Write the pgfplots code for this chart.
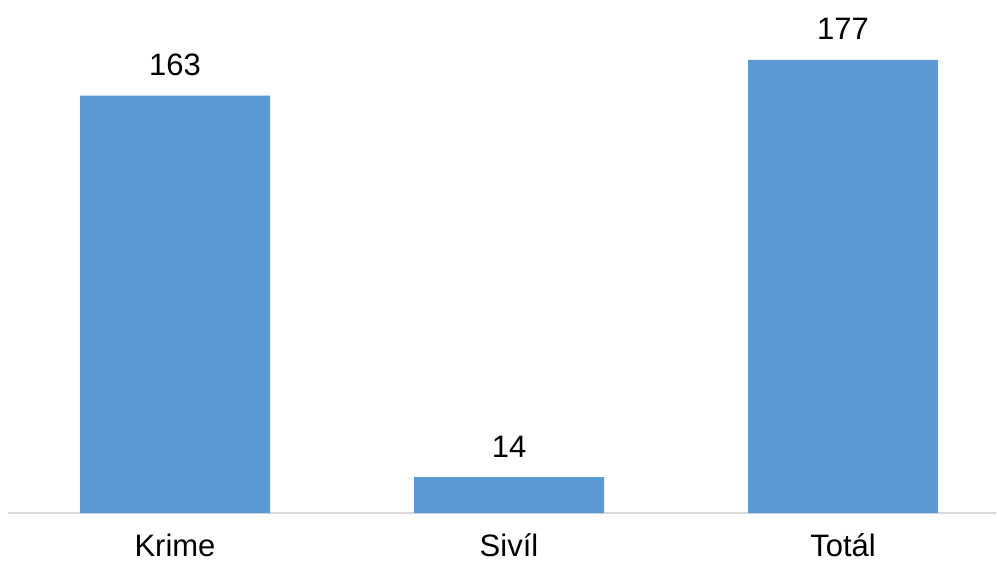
\documentclass[border=0pt]{standalone}
\usepackage{pgfplots}
\pgfplotsset{compat=1.18}
\usepackage{fontspec}
\setmainfont{Liberation Sans}
\definecolor{barblue}{RGB}{91,155,213}
\definecolor{axisgray}{RGB}{217,217,217}
\begin{document}
\fontsize{31bp}{36bp}\selectfont
\begin{tikzpicture}
\begin{axis}[
  at={(8bp,51bp)}, anchor=south west,
  scale only axis,
  width=988bp, height=513bp,
  xmin=-0.5, xmax=2.458,
  ymin=0, ymax=200.4,
  ybar, bar width=190bp,
  axis y line=none,
  axis x line*=bottom,
  x axis line style={draw=axisgray, line width=2bp},
  xtick=data,
  xticklabels={Krime, Sivíl, Totál},
  major tick length=0pt,
  xticklabel style={anchor=base, inner sep=0pt, yshift=-43bp, font=\fontsize{31bp}{36bp}\selectfont},
  nodes near coords,
  nodes near coords style={anchor=base, yshift=20bp, font=\fontsize{31bp}{36bp}\selectfont, text=black},
  /pgf/number format/assume math mode=true,
  clip=false,
]
\addplot[fill=barblue, draw=none] coordinates {(0,163) (1,14) (2,177)};
\end{axis}
\pgfresetboundingbox
\path (0,0) rectangle (997bp,564bp);
\end{tikzpicture}
\end{document}
